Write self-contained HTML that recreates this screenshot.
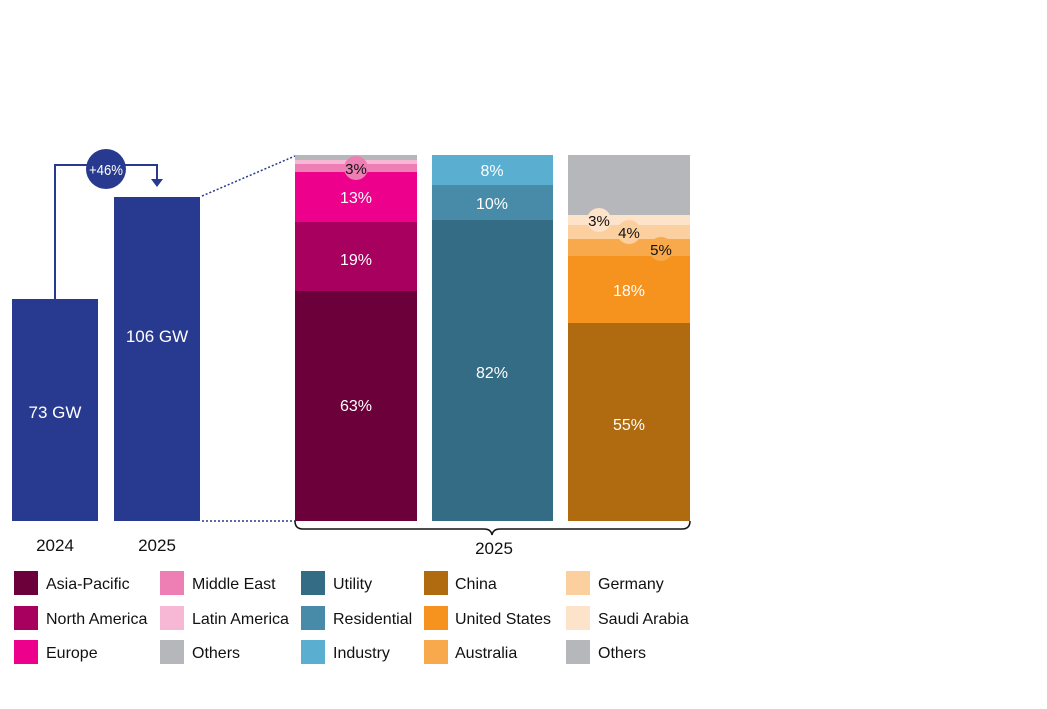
<!DOCTYPE html>
<html><head><meta charset="utf-8"><style>
body{margin:0;background:#fff}
svg text{font-family:"Liberation Sans",sans-serif}
</style></head><body>
<svg width="1047" height="704" viewBox="0 0 1047 704" xmlns="http://www.w3.org/2000/svg">
<rect width="1047" height="704" fill="#fff"/>
<rect x="12" y="299" width="86" height="222" fill="#283a8f"/>
<rect x="114" y="197" width="86" height="324" fill="#283a8f"/>
<text x="55" y="418" fill="#fff" font-size="17" text-anchor="middle">73 GW</text>
<text x="157" y="342" fill="#fff" font-size="17" text-anchor="middle">106 GW</text>
<path d="M55 299 V165 H157 V180" fill="none" stroke="#283a8f" stroke-width="2"/>
<path d="M151 179 H163 L157 187 Z" fill="#283a8f"/>
<circle cx="106" cy="169" r="20" fill="#283a8f"/>
<text x="106" y="175" fill="#fff" font-size="15" text-anchor="middle" textLength="34" lengthAdjust="spacingAndGlyphs">+46%</text>
<line x1="202" y1="196" x2="295" y2="156" stroke="#283a8f" stroke-width="1.5" stroke-dasharray="2,2"/>
<line x1="202" y1="521" x2="295" y2="521" stroke="#283a8f" stroke-width="1.5" stroke-dasharray="2,2"/>
<text x="55" y="551" font-size="17" text-anchor="middle" fill="#111">2024</text>
<text x="157" y="551" font-size="17" text-anchor="middle" fill="#111">2025</text>
<rect x="295" y="155" width="122" height="5" fill="#b6b7bb"/>
<rect x="295" y="160" width="122" height="4" fill="#f6b8d4"/>
<rect x="295" y="164" width="122" height="8" fill="#ee7fb5"/>
<rect x="295" y="172" width="122" height="50" fill="#ec008c"/>
<rect x="295" y="222" width="122" height="69" fill="#a8005f"/>
<rect x="295" y="291" width="122" height="230" fill="#6c003a"/>
<circle cx="356" cy="168" r="12" fill="#ee7fb5"/>
<text x="356" y="174" font-size="15" text-anchor="middle" fill="#111">3%</text>
<text x="356" y="203" font-size="16" text-anchor="middle" fill="#fff">13%</text>
<text x="356" y="265" font-size="16" text-anchor="middle" fill="#fff">19%</text>
<text x="356" y="411" font-size="16" text-anchor="middle" fill="#fff">63%</text>
<rect x="432" y="155" width="121" height="30" fill="#5aaed0"/>
<rect x="432" y="185" width="121" height="35" fill="#478ba8"/>
<rect x="432" y="220" width="121" height="301" fill="#336c84"/>
<text x="492" y="176" font-size="16" text-anchor="middle" fill="#fff">8%</text>
<text x="492" y="209" font-size="16" text-anchor="middle" fill="#fff">10%</text>
<text x="492" y="378" font-size="16" text-anchor="middle" fill="#fff">82%</text>
<rect x="568" y="155" width="122" height="60" fill="#b6b7bb"/>
<rect x="568" y="215" width="122" height="10" fill="#fde3c9"/>
<rect x="568" y="225" width="122" height="14" fill="#fccf9e"/>
<rect x="568" y="239" width="122" height="17" fill="#f8a94b"/>
<rect x="568" y="256" width="122" height="67" fill="#f6921e"/>
<rect x="568" y="323" width="122" height="198" fill="#b06a10"/>
<circle cx="599" cy="220" r="12" fill="#fde3c9"/>
<text x="599" y="226" font-size="15" text-anchor="middle" fill="#111">3%</text>
<circle cx="629" cy="232" r="12" fill="#fccf9e"/>
<text x="629" y="238" font-size="15" text-anchor="middle" fill="#111">4%</text>
<circle cx="661" cy="249" r="12" fill="#f8a94b"/>
<text x="661" y="255" font-size="15" text-anchor="middle" fill="#111">5%</text>
<text x="629" y="296" font-size="16" text-anchor="middle" fill="#fff">18%</text>
<text x="629" y="430" font-size="16" text-anchor="middle" fill="#fff">55%</text>
<path d="M295 521 Q295 529 303 529 H484 Q491 529 492 535 Q493 529 500 529 H682 Q690 529 690 521" fill="none" stroke="#111" stroke-width="1.5"/>
<text x="494" y="554" font-size="17" text-anchor="middle" fill="#111">2025</text>
<g font-size="16" fill="#111">
<rect x="14" y="571" width="24" height="24" fill="#6c003a"/><text x="46" y="589">Asia-Pacific</text>
<rect x="14" y="606" width="24" height="24" fill="#a8005f"/><text x="46" y="624">North America</text>
<rect x="14" y="640" width="24" height="24" fill="#ec008c"/><text x="46" y="658">Europe</text>
<rect x="160" y="571" width="24" height="24" fill="#ee7fb5"/><text x="192" y="589">Middle East</text>
<rect x="160" y="606" width="24" height="24" fill="#f6b8d4"/><text x="192" y="624">Latin America</text>
<rect x="160" y="640" width="24" height="24" fill="#b6b7bb"/><text x="192" y="658">Others</text>
<rect x="301" y="571" width="24" height="24" fill="#336c84"/><text x="333" y="589">Utility</text>
<rect x="301" y="606" width="24" height="24" fill="#478ba8"/><text x="333" y="624">Residential</text>
<rect x="301" y="640" width="24" height="24" fill="#5aaed0"/><text x="333" y="658">Industry</text>
<rect x="424" y="571" width="24" height="24" fill="#b06a10"/><text x="455" y="589">China</text>
<rect x="424" y="606" width="24" height="24" fill="#f6921e"/><text x="455" y="624">United States</text>
<rect x="424" y="640" width="24" height="24" fill="#f8a94b"/><text x="455" y="658">Australia</text>
<rect x="566" y="571" width="24" height="24" fill="#fccf9e"/><text x="598" y="589">Germany</text>
<rect x="566" y="606" width="24" height="24" fill="#fde3c9"/><text x="598" y="624">Saudi Arabia</text>
<rect x="566" y="640" width="24" height="24" fill="#b6b7bb"/><text x="598" y="658">Others</text>
</g>
</svg>
</body></html>
